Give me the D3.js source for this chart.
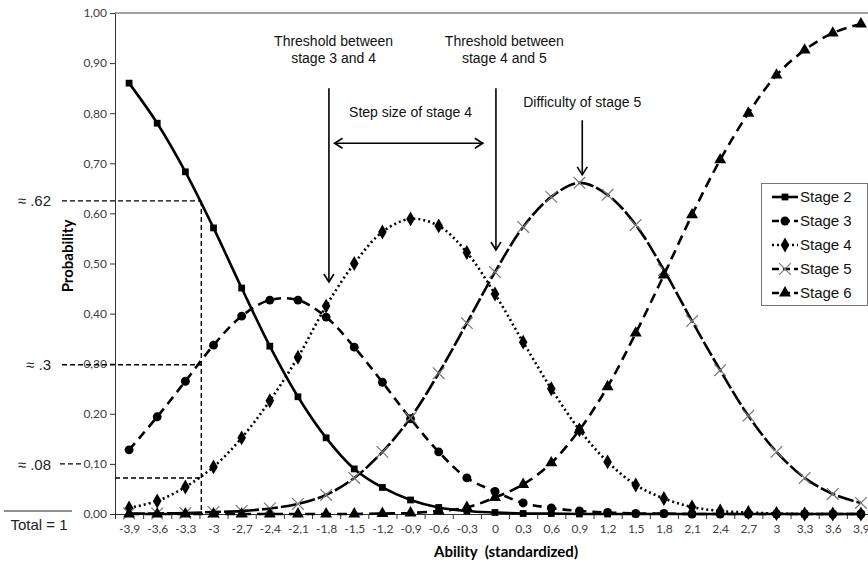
<!DOCTYPE html>
<html>
<head>
<meta charset="utf-8">
<script src="https://cdn.jsdelivr.net/npm/d3@7"></script>
<style>
  body { margin: 0; background: #fff; }
  text { font-family: "Liberation Sans", Arial, sans-serif; }
</style>
</head>
<body>
<div id="chart"></div>
<script>
// ability categories (x axis)
const abilities = [-3.9, -3.6, -3.3, -3.0, -2.7, -2.4, -2.1, -1.8, -1.5, -1.2, -0.9, -0.6, -0.3, 0,
  0.3, 0.6, 0.9, 1.2, 1.5, 1.8, 2.1, 2.4, 2.7, 3.0, 3.3, 3.6, 3.9];
const abilityLabels = ["-3,9", "-3,6", "-3,3", "-3", "-2,7", "-2,4", "-2,1", "-1,8", "-1,5", "-1,2", "-0,9", "-0,6", "-0,3", "0",
  "0,3", "0,6", "0,9", "1,2", "1,5", "1,8", "2,1", "2,4", "2,7", "3", "3,3", "3,6", "3,9"];

const yTicks = [0, 0.1, 0.2, 0.3, 0.4, 0.5, 0.6, 0.7, 0.8, 0.9, 1];
const yTickLabels = ["0,00", "0,10", "0,20", "0,30", "0,40", "0,50", "0,60", "0,70", "0,80", "0,90", "1,00"];

const stageNames = ["Stage 2", "Stage 3", "Stage 4", "Stage 5", "Stage 6"];

const stage2 = [0.86, 0.78, 0.683, 0.571, 0.451, 0.335, 0.234, 0.152, 0.09, 0.053, 0.028, 0.013, 0.006, 0.003,
  0.001, 0.001, 0, 0, 0, 0, 0, 0, 0, 0, 0, 0, 0];
const stage3 = [0.128, 0.194, 0.265, 0.337, 0.395, 0.427, 0.427, 0.393, 0.333, 0.263, 0.19, 0.124, 0.072, 0.045,
  0.022, 0.012, 0.006, 0.003, 0.001, 0.001, 0, 0, 0, 0, 0, 0, 0];
const stage4 = [0.012, 0.026, 0.054, 0.094, 0.152, 0.226, 0.313, 0.415, 0.5, 0.563, 0.589, 0.575, 0.522, 0.439,
  0.343, 0.25, 0.168, 0.104, 0.058, 0.031, 0.014, 0.006, 0.003, 0.001, 0, 0, 0];
const stage5 = [0.001, 0.001, 0.002, 0.004, 0.006, 0.011, 0.02, 0.038, 0.072, 0.124, 0.192, 0.281, 0.381, 0.483,
  0.573, 0.633, 0.661, 0.637, 0.577, 0.487, 0.385, 0.287, 0.196, 0.124, 0.072, 0.04, 0.022];
const stage6 = [0, 0, 0, 0, 0, 0, 0, 0, 0, 0.001, 0.002, 0.006, 0.013, 0.033,
  0.059, 0.102, 0.168, 0.254, 0.361, 0.477, 0.597, 0.707, 0.8, 0.876, 0.926, 0.96, 0.978];

const width = 868;
const height = 562;

const svg = d3.select('#chart')
  .append('svg')
  .attr('width', width)
  .attr('height', height);

// category axis: each ability value sits in the middle of its slot
const x = d3.scaleLinear().domain([-4.05, 4.05]).range([115, 875]);
const y = d3.scaleLinear().domain([0, 1]).range([514, 13]);

const series = [
  { name: stageNames[0], values: stage2, dash: null, symbol: d3.symbolSquare, size: 46, fill: '#000', stroke: 'none' },
  { name: stageNames[1], values: stage3, dash: '9,6', symbol: d3.symbolCircle, size: 62, fill: '#000', stroke: 'none' },
  { name: stageNames[2], values: stage4, dash: '2,3', symbol: d3.symbolDiamond, size: 64, fill: '#000', stroke: 'none' },
  { name: stageNames[3], values: stage5, dash: '16,3', symbol: d3.symbolX, size: 90, fill: 'none', stroke: '#777' },
  { name: stageNames[4], values: stage6, dash: '10,6', symbol: d3.symbolTriangle, size: 62, fill: '#000', stroke: 'none' }
];

svg.append('defs').append('marker')
  .attr('id', 'arrow')
  .attr('viewBox', '-10 -6 12 12')
  .attr('markerWidth', 12)
  .attr('markerHeight', 12)
  .attr('markerUnits', 'userSpaceOnUse')
  .attr('orient', 'auto-start-reverse')
  .append('path')
  .attr('d', 'M-8,-5L0,0L-8,5')
  .attr('fill', 'none')
  .attr('stroke', '#000')
  .attr('stroke-width', 1.6);

// plot frame (top edge, right edge falls outside the picture)
svg.append('path')
  .attr('d', `M${x(-4.05)},${y(1)}H${x(4.05)}V${y(0)}`)
  .attr('fill', 'none')
  .attr('stroke', '#444')
  .attr('stroke-width', 1);

// y axis
const yAxis = svg.append('g')
  .attr('transform', `translate(${x(-4.05)},0)`)
  .call(d3.axisLeft(y).tickValues(yTicks).tickFormat((d, i) => yTickLabels[i]).tickSize(5).tickSizeOuter(0));
yAxis.select('.domain').attr('stroke', '#333');
yAxis.selectAll('.tick line').attr('stroke', '#333');
yAxis.selectAll('.tick text')
  .attr('x', -8)
  .style('font-family', 'Lato, "Open Sans", sans-serif')
  .style('font-size', '12px')
  .attr('fill', '#404040');

// x axis: labels at category centres, tick marks between categories
const boundaries = abilities.map(a => a - 0.15).concat([abilities[abilities.length - 1] + 0.15]);
const xTicks = svg.append('g')
  .attr('transform', `translate(0,${y(0)})`)
  .call(d3.axisBottom(x).tickValues(boundaries).tickFormat('').tickSize(5).tickSizeOuter(0));
xTicks.select('.domain').attr('stroke', '#333');
xTicks.selectAll('.tick line').attr('stroke', '#333');

const xLabels = svg.append('g')
  .attr('transform', `translate(0,${y(0)})`)
  .call(d3.axisBottom(x).tickValues(abilities).tickFormat((d, i) => abilityLabels[i]).tickSize(0));
xLabels.select('.domain').remove();
xLabels.selectAll('.tick text')
  .attr('dy', '1.35em')
  .style('font-family', 'Lato, "Open Sans", sans-serif')
  .style('font-size', '12px')
  .attr('fill', '#404040');

// axis titles
svg.append('text')
  .attr('x', 506)
  .attr('y', 557)
  .attr('text-anchor', 'middle')
  .style('font-family', 'Lato, "Open Sans", sans-serif')
  .style('font-weight', 'bold')
  .style('font-size', '15px')
  .attr('xml:space', 'preserve')
  .text('Ability  (standardized)');

svg.append('text')
  .attr('transform', 'translate(73,256) rotate(-90)')
  .attr('text-anchor', 'middle')
  .style('font-family', 'Lato, "Open Sans", sans-serif')
  .style('font-weight', 'bold')
  .style('font-size', '15px')
  .text('Probability');

// left reading aids
const crossAbility = -3.13;
const dashed = (x1, y1, x2, y2) => svg.append('line')
  .attr('x1', x1).attr('y1', y1).attr('x2', x2).attr('y2', y2)
  .attr('stroke', '#000').attr('stroke-width', 1.4).attr('stroke-dasharray', '5,3');

dashed(62, y(0.625), x(crossAbility), y(0.625));
dashed(x(crossAbility), y(0.625), x(crossAbility), y(0));
dashed(62, y(0.298), x(crossAbility), y(0.298));
dashed(60, y(0.1), 84, y(0.1));
dashed(x(-4.05), y(0.072), x(crossAbility), y(0.072));

const leftNotes = [
  { label: '≈ .62', value: 0.625 },
  { label: '≈ .3', value: 0.298 },
  { label: '≈ .08', value: 0.098 }
];
svg.selectAll('.left-note')
  .data(leftNotes)
  .enter()
  .append('text')
  .attr('x', 51)
  .attr('y', d => y(d.value))
  .attr('dy', '0.35em')
  .attr('text-anchor', 'end')
  .style('font-size', '15px')
  .attr('fill', '#222')
  .text(d => d.label);

svg.append('line')
  .attr('x1', 4).attr('x2', 72)
  .attr('y1', 511).attr('y2', 511)
  .attr('stroke', '#222').attr('stroke-width', 1);
svg.append('text')
  .attr('x', 39)
  .attr('y', 530)
  .attr('text-anchor', 'middle')
  .style('font-size', '15px')
  .attr('fill', '#222')
  .text('Total = 1');

// curves
const line = d3.line()
  .x((d, i) => x(abilities[i]))
  .y(d => y(d))
  .curve(d3.curveCatmullRom.alpha(0.5));

series.forEach(s => {
  svg.append('path')
    .datum(s.values)
    .attr('d', line)
    .attr('fill', 'none')
    .attr('stroke', '#000')
    .attr('stroke-width', 2.6)
    .attr('stroke-dasharray', s.dash);

  svg.selectAll(null)
    .data(s.values)
    .enter()
    .append('path')
    .attr('d', d3.symbol().type(s.symbol).size(s.size))
    .attr('transform', (d, i) => `translate(${x(abilities[i])},${y(d)})`)
    .attr('fill', s.fill)
    .attr('stroke', s.stroke)
    .attr('stroke-width', 1.2);
});

// annotations
const arrows = [
  { x1: -1.77, y1: 0.85, x2: -1.77, y2: 0.463 },
  { x1: 0.01, y1: 0.85, x2: 0.01, y2: 0.527 },
  { x1: 0.93, y1: 0.786, x2: 0.93, y2: 0.677 }
];
svg.selectAll('.arrow')
  .data(arrows)
  .enter()
  .append('line')
  .attr('x1', d => x(d.x1)).attr('y1', d => y(d.y1))
  .attr('x2', d => x(d.x2)).attr('y2', d => y(d.y2))
  .attr('stroke', '#000')
  .attr('stroke-width', 1.6)
  .attr('marker-end', 'url(#arrow)');

svg.append('line')
  .attr('x1', x(-1.71)).attr('x2', x(-0.13))
  .attr('y1', y(0.74)).attr('y2', y(0.74))
  .attr('stroke', '#000')
  .attr('stroke-width', 1.6)
  .attr('marker-start', 'url(#arrow)')
  .attr('marker-end', 'url(#arrow)');

const notes = [
  { lines: ['Threshold between', 'stage 3 and 4'], ability: -1.72, value: 0.934 },
  { lines: ['Threshold between', 'stage 4 and 5'], ability: 0.1, value: 0.934 },
  { lines: ['Step size of stage 4'], ability: -0.9, value: 0.792 },
  { lines: ['Difficulty of stage 5'], ability: 0.93, value: 0.812 }
];
notes.forEach(n => {
  const t = svg.append('text')
    .attr('x', x(n.ability))
    .attr('y', y(n.value))
    .attr('text-anchor', 'middle')
    .style('font-size', '14px')
    .attr('fill', '#111');
  n.lines.forEach((l, i) => {
    t.append('tspan')
      .attr('x', x(n.ability))
      .attr('dy', i === 0 ? 0 : '1.2em')
      .text(l);
  });
});

// legend
const legend = svg.append('g').attr('transform', 'translate(761,183)');
legend.append('rect')
  .attr('x', 0.5).attr('y', 0.5)
  .attr('width', 106).attr('height', 122)
  .attr('fill', '#fff')
  .attr('stroke', '#777');

const items = legend.selectAll('.item')
  .data(series)
  .enter()
  .append('g')
  .attr('transform', (d, i) => `translate(0,${14 + i * 24})`);
items.append('line')
  .attr('x1', 11).attr('x2', 37)
  .attr('stroke', '#000')
  .attr('stroke-width', 2.6)
  .attr('stroke-dasharray', d => d.dash ? (d.dash === '2,3' ? '2,3' : '7,4') : null);
items.append('path')
  .attr('d', d => d3.symbol().type(d.symbol).size(d.size)())
  .attr('transform', 'translate(24,0)')
  .attr('fill', d => d.fill)
  .attr('stroke', d => d.stroke)
  .attr('stroke-width', 1.2);
items.append('text')
  .attr('x', 39)
  .attr('dy', '0.35em')
  .style('font-size', '15px')
  .attr('fill', '#111')
  .text(d => d.name);
</script>
</body>
</html>
